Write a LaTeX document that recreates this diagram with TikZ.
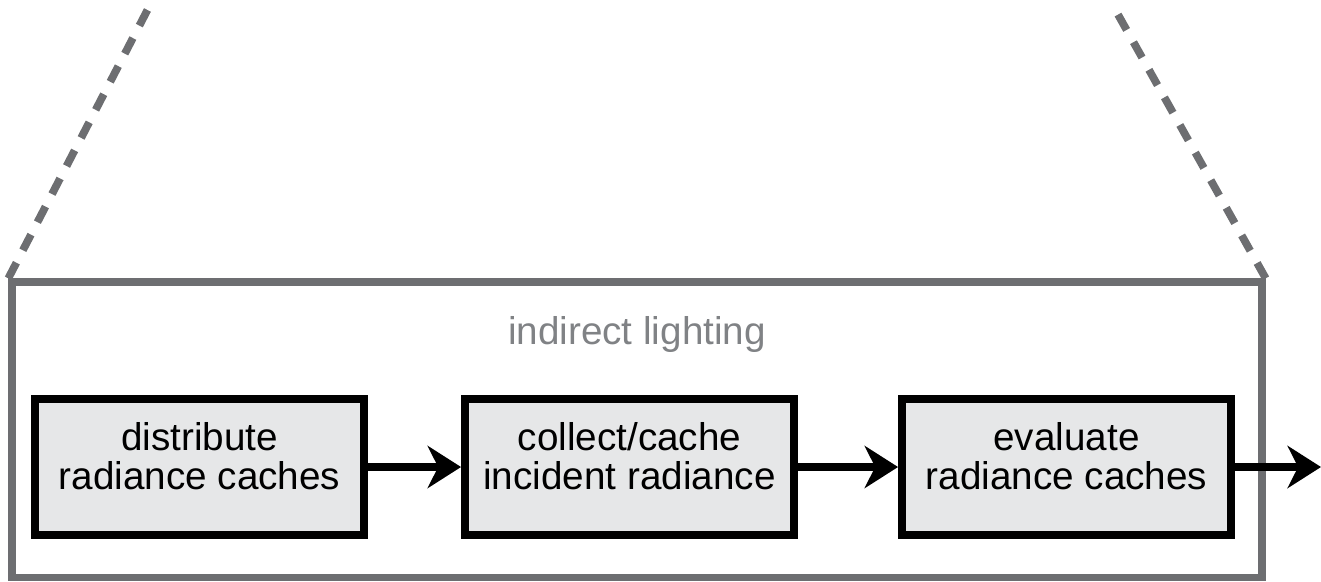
\documentclass[tikz,border=0pt]{standalone}
\usepackage{fontspec}
\setmainfont{Liberation Sans}
\usetikzlibrary{arrows.meta}
\definecolor{framegray}{HTML}{6D6E71}
\definecolor{labelgray}{HTML}{808285}
\definecolor{stagefill}{HTML}{E6E7E8}

\begin{document}
\begin{tikzpicture}[
    stagebox/.style={draw=black, line width=4.5pt, fill=stagefill,
      minimum width=6.58cm, minimum height=2.72cm, align=center,
      font=\fontsize{22}{22}\selectfont, inner sep=0pt, text depth=0.45cm},
    flow/.style={line width=4.2pt, -{Stealth[length=19pt, width=24pt, inset=6pt]}},
    zoomline/.style={framegray, line width=4.4pt, dash pattern=on 10pt off 8pt}
  ]
    \useasboundingbox (0,0) rectangle (26.42,-11.62);
    % frame of the lighting pass
    \node[draw=framegray, line width=4.2pt, minimum width=25cm, minimum height=5.91cm,
      inner sep=0pt] (lighting) at (12.74,-8.595) {};
    \node[text=labelgray, font=\fontsize{22}{22}\selectfont] (title) at (12.74,-6.68) {indirect lighting};
    \coordinate (zoomL) at (2.98,-0.14);
    \coordinate (zoomR) at (22.32,-0.22);
    \draw[zoomline] (lighting.north west) -- (zoomL);
    \draw[zoomline] (lighting.north east) -- (zoomR);
    %
    \node[stagebox] (distribute) at (3.99,-9.34) {distribute\\radiance caches};
    \node[stagebox] (collect) at (12.59,-9.34) {collect/cache\\incident radiance};
    \node[stagebox] (evaluate) at (21.33,-9.34) {evaluate\\radiance caches};
    \coordinate (out) at (26.42,-9.34);
    \draw[flow] (distribute) -- (collect);
    \draw[flow] (collect) -- (evaluate);
    \draw[flow] (evaluate) -- (out);
\end{tikzpicture}
\end{document}
